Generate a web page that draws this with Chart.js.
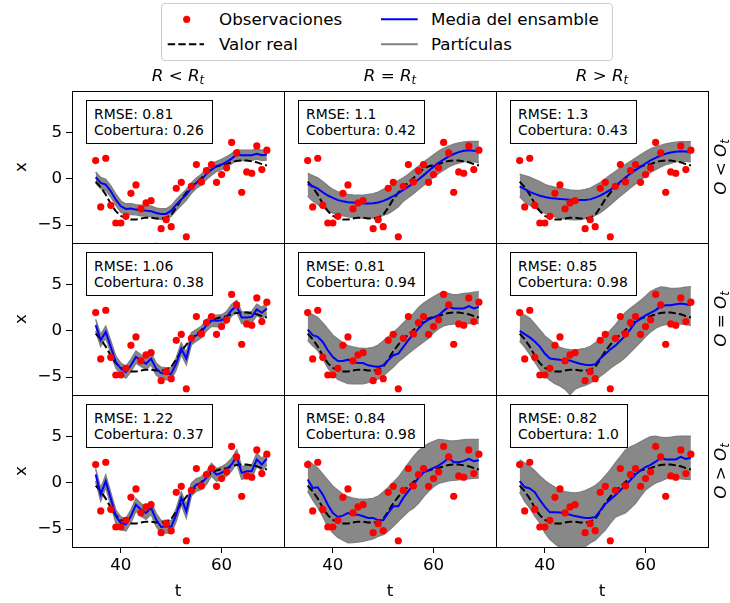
<!DOCTYPE html>
<html lang="es">
<head>
<meta charset="UTF-8">
<title>Filtro de partículas: sensibilidad a R y O</title>
<script src="https://cdn.jsdelivr.net/npm/chart.js"></script>
<style>
    body { margin: 0; background: #fff; font-family: 'DejaVu Sans', sans-serif; color: #000; }
    #fig { position: relative; width: 730px; height: 603px; overflow: hidden; }
    #fig canvas { position: absolute; }
    .lbl { position: absolute; font-size: 16.7px; line-height: 20px; white-space: nowrap; transform: translate(-50%, -50%); }
    .lbl.rot { transform: translate(-50%, -50%) rotate(-90deg); }
    .lbl sub { font-size: 11.7px; vertical-align: -3px; font-style: italic; }
    .stats { position: absolute; background: #fff; border: 1.5px solid #000; font-size: 13.9px; line-height: 16px;
             padding: 5px 8px 5px 7px; white-space: nowrap; }
    #legend { position: absolute; left: 161px; top: 3px; width: 450px; height: 56px; border: 1px solid #ccc;
              border-radius: 4px; background: #fff; }
    #legend svg { position: absolute; left: 0; top: 0; }
    #legend span { position: absolute; font-size: 16.7px; line-height: 20px; white-space: nowrap; }
</style>
</head>
<body>
<div id="fig">
    <div id="legend">
        <svg width="450" height="56">
            <circle cx="24.7" cy="15.3" r="3.6" fill="#ff0000"/>
            <line x1="5.7" y1="40.3" x2="42" y2="40.3" stroke="#000" stroke-width="2" stroke-dasharray="7.4 3.2"/>
            <line x1="219" y1="15.3" x2="255.7" y2="15.3" stroke="#0000ff" stroke-width="2"/>
            <line x1="219" y1="40.3" x2="255.7" y2="40.3" stroke="#808080" stroke-width="2"/>
        </svg>
        <span style="left:57px; top:5px">Observaciones</span>
        <span style="left:57px; top:30px">Valor real</span>
        <span style="left:269px; top:5px">Media del ensamble</span>
        <span style="left:269px; top:30px">Partículas</span>
    </div>
</div>
<script>
    // Tiempos y observaciones (iguales en los 9 paneles)
    const t = [35,36,37,38,39,40,41,42,43,44,45,46,47,48,49,50,51,52,53,54,55,56,57,58,59,60,61,62,63,64,65,66,67,68,69];
    const obs = [1.99,-3.04,2.24,-2.87,-4.78,-4.78,-4.06,-1.56,-0.65,-3.26,-2.61,-2.36,-7.3,-5.4,-4.42,-5.18,-1.02,-0.37,-6.27,-0.8,
                 1.55,-0.33,0.9,1.55,-0.37,0.47,1.2,3.95,2.82,-1.45,0.76,0.61,3.58,1.01,3.11];
    const valorReal = [-0.3,-0.9,-1.7,-2.7,-3.5,-4.0,-4.3,-4.4,-4.4,-4.3,-4.2,-4.2,-4.3,-4.3,-4.2,-3.9,-3.1,-2.2,-1.5,-0.9,
                       -0.4,0.1,0.6,1.1,1.35,1.5,1.6,1.8,1.95,2.0,2.0,1.9,1.8,1.6,1.45];

    // Fila O < Ot
    const mean00 = [0.18,-0.43,-0.62,-1.34,-2.25,-2.97,-3.26,-3.22,-3.33,-3.4,-3.44,-3.5,-3.7,-3.8,-3.8,-3.44,-2.8,-2.25,-1.7,-0.98,
                    -0.43,-0.07,0.54,1.0,1.38,1.56,1.85,2.2,2.64,2.57,2.57,2.57,2.72,2.57,2.64];
    const up00 = [0.75,0.15,-0.05,-0.75,-1.65,-2.4,-2.7,-2.7,-2.8,-2.85,-2.9,-2.95,-3.15,-3.25,-3.25,-2.9,-2.25,-1.7,-1.15,-0.45,
                  0.1,0.5,1.1,1.55,1.9,2.1,2.4,2.75,3.15,3.1,3.1,3.1,3.25,3.1,3.15];
    const lo00 = [-0.45,-1.05,-1.25,-1.95,-2.85,-3.6,-3.85,-3.85,-3.9,-4.0,-4.05,-4.1,-4.3,-4.4,-4.4,-4.05,-3.4,-2.85,-2.3,-1.55,
                  -1.0,-0.65,-0.05,0.4,0.8,1.0,1.3,1.65,2.05,2.0,2.0,2.0,2.15,2.0,2.05];
    const mean01 = [-0.55,-0.8,-1.05,-1.45,-1.8,-2.05,-2.3,-2.42,-2.52,-2.57,-2.62,-2.66,-2.67,-2.63,-2.55,-2.38,-2.15,-1.88,-1.55,-1.2,
                    -0.83,-0.47,-0.07,0.38,0.85,1.33,1.75,2.1,2.43,2.7,2.9,3.05,3.1,3.05,3.0];
    const up01 = [0.6,0.35,0.1,-0.3,-0.75,-1.15,-1.4,-1.6,-1.7,-1.75,-1.78,-1.78,-1.7,-1.6,-1.45,-1.15,-0.88,-0.6,-0.2,0.1,
                  0.5,0.95,1.35,1.8,2.2,2.6,3.0,3.3,3.55,3.75,3.9,4.0,4.05,4.05,4.05];
    const lo01 = [-1.85,-2.4,-2.75,-3.1,-3.4,-3.7,-3.88,-4.0,-4.1,-4.15,-4.2,-4.24,-4.25,-4.25,-4.15,-3.95,-3.75,-3.4,-3.0,-2.4,
                  -2.0,-1.6,-1.15,-0.7,-0.25,0.2,0.6,0.95,1.3,1.55,1.72,1.85,1.9,1.85,1.75];
    const mean02 = [-0.8,-1.1,-1.4,-1.62,-1.83,-1.97,-2.08,-2.13,-2.18,-2.22,-2.25,-2.28,-2.3,-2.28,-2.22,-2.03,-1.82,-1.52,-1.2,-0.75,
                    -0.3,0.15,0.58,0.95,1.3,1.67,2.0,2.28,2.52,2.72,2.86,2.95,3.0,2.97,2.9];
    const up02 = [0.52,0.35,0.18,-0.05,-0.3,-0.6,-0.78,-0.9,-1.0,-1.1,-1.2,-1.27,-1.25,-1.15,-1.0,-0.7,-0.4,0.0,0.4,0.8,
                  1.2,1.55,1.9,2.25,2.6,2.95,3.25,3.45,3.62,3.78,3.9,3.98,4.02,4.02,4.02];
    const lo02 = [-1.9,-2.5,-2.85,-3.15,-3.45,-3.7,-3.9,-4.1,-4.28,-4.35,-4.4,-4.42,-4.4,-4.3,-4.2,-3.95,-3.65,-3.25,-2.8,-2.3,
                  -1.85,-1.4,-0.95,-0.55,-0.1,0.3,0.7,1.0,1.3,1.56,1.7,1.85,1.92,1.9,1.85];

    // Fila O = Ot
    const mean10 = [0.62,-1.01,-0.11,-1.74,-3.37,-4.09,-4.46,-3.73,-2.83,-3.19,-3.55,-3.0,-4.09,-4.57,-4.64,-4.64,-3.55,-1.92,-3.0,-0.83,
                    -0.47,-0.11,0.62,1.16,1.09,1.16,1.52,2.25,2.72,1.45,1.45,1.52,2.32,1.96,2.43];
    const up10 = [1.25,-0.4,0.5,-1.1,-2.75,-3.5,-3.85,-3.1,-2.2,-2.6,-2.95,-2.4,-3.5,-3.95,-4.0,-4.0,-2.95,-1.3,-2.4,-0.2,
                  0.15,0.5,1.2,1.75,1.7,1.75,2.1,2.85,3.3,2.05,2.05,2.1,2.9,2.55,3.0];
    const lo10 = [-0.05,-1.65,-0.75,-2.4,-4.0,-4.75,-5.1,-4.4,-3.5,-3.85,-4.2,-3.65,-4.75,-5.2,-5.3,-5.3,-4.2,-2.55,-3.65,-1.5,
                  -1.1,-0.75,0.0,0.5,0.45,0.5,0.9,1.6,2.1,0.8,0.8,0.9,1.7,1.3,1.8];
    const mean11 = [0.14,-0.47,-0.65,-1.2,-2.1,-2.83,-3.26,-3.26,-3.12,-3.37,-3.48,-3.48,-3.73,-3.84,-3.9,-3.73,-3.19,-2.64,-2.46,-1.74,
                    -1.01,-0.36,0.25,0.87,1.23,1.45,1.7,2.17,2.6,2.43,2.43,2.43,2.68,2.43,2.6];
    const up11 = [2.0,1.75,1.45,0.85,0.2,-0.47,-0.9,-1.3,-1.6,-1.75,-1.85,-1.92,-1.88,-1.8,-1.55,-1.1,-0.65,-0.2,0.3,0.85,
                  1.4,1.85,2.5,3.0,3.35,3.7,4.0,4.24,4.05,3.9,3.95,4.05,4.1,4.2,4.24];
    const lo11 = [-1.0,-1.6,-2.1,-3.0,-4.0,-4.7,-5.25,-5.5,-5.7,-5.72,-5.72,-5.72,-5.6,-5.45,-5.2,-4.85,-4.4,-3.9,-3.35,-2.9,
                  -2.45,-2.0,-1.6,-1.2,-0.8,-0.2,0.25,0.55,0.68,0.75,0.8,0.8,0.8,0.8,0.8];
    const mean12 = [0.0,-0.35,-0.7,-1.15,-1.7,-2.45,-3.0,-3.07,-3.13,-3.16,-3.22,-3.4,-3.57,-3.66,-3.73,-3.62,-3.0,-2.5,-2.0,-1.6,
                    -1.05,-0.5,0.2,0.95,1.3,1.68,1.95,2.25,2.65,2.79,2.79,2.88,2.97,2.88,2.79];
    const up12 = [2.0,1.7,1.35,0.75,0.1,-0.55,-1.0,-1.45,-1.8,-1.95,-2.05,-2.1,-2.0,-1.9,-1.7,-1.3,-0.9,-0.45,0.05,0.65,
                  1.35,2.0,2.45,2.85,3.3,3.75,4.25,4.55,4.75,4.7,4.6,4.6,4.65,4.72,4.78];
    const lo12 = [-1.1,-1.75,-2.5,-3.35,-4.2,-4.85,-5.35,-5.7,-5.95,-6.3,-6.9,-6.3,-6.05,-5.9,-5.65,-5.3,-4.9,-4.5,-4.05,-3.65,
                  -3.3,-2.85,-2.3,-1.75,-1.2,-0.6,-0.1,0.3,0.55,0.68,0.75,0.8,0.75,0.68,0.62];

    // Fila O > Ot
    const mean20 = [0.9,-1.27,0.18,-1.7,-3.6,-4.35,-4.5,-3.6,-2.36,-2.9,-3.26,-2.7,-3.98,-4.78,-4.7,-4.78,-3.44,-1.63,-3.08,-0.72,
                    -0.18,0.0,0.54,1.45,0.9,1.09,1.45,2.0,2.9,1.09,1.27,1.27,2.54,2.0,2.64];
    const up20 = [1.55,-0.6,0.85,-1.05,-2.95,-3.7,-3.85,-2.95,-1.7,-2.25,-2.6,-2.05,-3.3,-4.1,-4.05,-4.1,-2.8,-1.0,-2.4,-0.05,
                  0.45,0.65,1.2,2.1,1.55,1.75,2.1,2.65,3.55,1.75,1.9,1.9,3.2,2.65,3.3];
    const lo20 = [0.2,-1.95,-0.5,-2.4,-4.3,-5.05,-5.2,-4.3,-3.05,-3.6,-3.95,-3.4,-4.7,-5.5,-5.4,-5.5,-4.15,-2.35,-3.8,-1.4,
                  -0.9,-0.7,-0.15,0.75,0.2,0.4,0.75,1.3,2.2,0.4,0.55,0.55,1.85,1.3,1.95];
    const mean21 = [0.36,-0.54,-0.47,-1.27,-2.36,-3.26,-3.7,-3.55,-3.26,-3.44,-3.44,-3.62,-3.8,-3.8,-4.06,-4.06,-3.26,-2.54,-2.54,-1.63,
                    -0.9,-0.18,0.54,1.16,1.38,1.63,1.88,2.25,2.72,2.25,2.25,2.36,2.6,2.36,2.46];
    const up21 = [2.45,2.0,1.6,0.95,0.3,-0.36,-0.8,-1.25,-1.5,-1.65,-1.75,-1.8,-1.75,-1.68,-1.45,-1.0,-0.5,0.05,0.6,1.35,
                  2.1,2.85,3.45,3.9,4.25,4.5,4.7,4.65,4.58,4.53,4.6,4.68,4.71,4.71,4.71];
    const lo21 = [-0.9,-1.85,-2.65,-3.6,-4.75,-5.4,-5.9,-6.2,-6.5,-6.45,-6.4,-6.34,-6.2,-6.05,-5.8,-5.6,-5.2,-4.7,-4.15,-3.6,
                  -3.1,-2.75,-2.2,-1.5,-0.9,-0.4,-0.05,0.1,0.22,0.3,0.35,0.4,0.45,0.5,0.54];
    const mean22 = [0.2,-0.45,-0.6,-1.0,-1.85,-2.6,-3.19,-3.19,-3.2,-3.3,-3.45,-3.6,-3.7,-3.8,-3.8,-3.7,-3.0,-2.3,-1.8,-1.35,
                    -0.8,-0.25,0.3,0.9,1.35,1.72,1.95,2.3,2.7,2.54,2.54,2.54,2.83,2.6,2.72];
    const up22 = [2.5,2.15,1.8,1.3,0.75,0.25,-0.15,-0.45,-0.8,-0.95,-1.05,-1.09,-1.0,-0.85,-0.6,-0.3,0.15,0.75,1.4,2.15,
                  2.85,3.55,3.9,4.15,4.45,4.75,5.0,5.05,4.95,4.9,4.95,5.02,5.07,5.07,5.07];
    const lo22 = [-1.0,-2.0,-2.7,-3.6,-4.3,-5.4,-6.1,-6.6,-7.0,-7.3,-7.5,-7.4,-7.2,-6.9,-6.5,-6.2,-5.65,-5.1,-4.35,-3.7,
                  -3.45,-3.26,-2.75,-2.2,-1.45,-0.75,-0.35,0.0,0.2,0.45,0.55,0.5,0.45,0.4,0.36];

    // Métricas de cada panel (por filas)
    const rmse = ['0.81', '1.1', '1.3', '1.06', '0.81', '0.85', '1.22', '0.84', '0.82'];
    const cobertura = ['0.26', '0.42', '0.43', '0.38', '0.94', '0.98', '0.37', '0.98', '1.0'];

    const xTicks = [40, 60];
    const yTicks = [-5, 0, 5];
    const colOps = ['<', '=', '>'];
    const rowOps = ['<', '=', '>'];

    const panels = [
        [mean00, up00, lo00], [mean01, up01, lo01], [mean02, up02, lo02],
        [mean10, up10, lo10], [mean11, up11, lo11], [mean12, up12, lo12],
        [mean20, up20, lo20], [mean21, up21, lo21], [mean22, up22, lo22]
    ];

    // geometría de la rejilla
    const LEFT = [72, 284, 496];
    const TOP = [91, 243, 395];
    const W = 212, H = 152;
    const YAX = 40, XAX = 45, PAD = 4;
    const FONT = { family: "'DejaVu Sans', sans-serif", size: 16.7 };

    const fig = document.getElementById('fig');
    const pts = arr => t.map((x, i) => ({ x: x, y: arr[i] }));

    // los ejes no deben reservar margen extra para las etiquetas extremas
    const noPadding = s => { s.paddingTop = 0; s.paddingBottom = 0; s.paddingLeft = 0; s.paddingRight = 0; };

    // marco negro completo alrededor de cada panel
    const frame = {
        id: 'frame',
        afterDraw(chart) {
            const a = chart.chartArea, c = chart.ctx;
            c.save();
            c.strokeStyle = '#000';
            c.lineWidth = 1;
            c.strokeRect(Math.round(a.left) + 0.5, Math.round(a.top) + 0.5,
                         Math.round(a.right - a.left), Math.round(a.bottom - a.top));
            c.restore();
        }
    };

    function addLabel(html, x, y, rotate) {
        const d = document.createElement('div');
        d.className = rotate ? 'lbl rot' : 'lbl';
        d.innerHTML = html;
        d.style.left = x + 'px';
        d.style.top = y + 'px';
        fig.appendChild(d);
    }

    const esc = op => op === '<' ? '&lt;' : op === '>' ? '&gt;' : op;

    for (let r = 0; r < 3; r++) {
        for (let c = 0; c < 3; c++) {
            const k = r * 3 + c;
            const [mean, up, lo] = panels[k];
            const isLeft = c === 0, isBottom = r === 2;

            const cv = document.createElement('canvas');
            cv.width = YAX + W + PAD;
            cv.height = PAD + H + XAX;
            cv.style.left = (LEFT[c] - YAX) + 'px';
            cv.style.top = (TOP[r] - PAD) + 'px';
            fig.appendChild(cv);

            new Chart(cv, {
                type: 'line',
                data: {
                    datasets: [
                        { data: pts(up), borderColor: '#808080', borderWidth: 1.5, backgroundColor: '#888888',
                          fill: '+1', pointRadius: 0, tension: 0, order: 4 },
                        { data: pts(lo), borderColor: '#808080', borderWidth: 1.5, fill: false,
                          pointRadius: 0, tension: 0, order: 3 },
                        { data: pts(valorReal), borderColor: '#000', borderWidth: 2, borderDash: [7.4, 3.2],
                          fill: false, pointRadius: 0, tension: 0, order: 2 },
                        { data: pts(mean), borderColor: '#0000ff', borderWidth: 2, fill: false,
                          pointRadius: 0, tension: 0, order: 1 },
                        { data: pts(obs), showLine: false, pointRadius: 3.6, pointBackgroundColor: '#ff0000',
                          pointBorderColor: '#ff0000', pointBorderWidth: 0, order: 0 }
                    ]
                },
                options: {
                    responsive: false,
                    animation: false,
                    events: [],
                    layout: { padding: { left: 0, top: PAD, right: PAD, bottom: 0 } },
                    plugins: { legend: { display: false }, tooltip: { enabled: false } },
                    scales: {
                        x: {
                            type: 'linear', min: 30.3, max: 72.4,
                            afterBuildTicks: s => { s.ticks = xTicks.map(v => ({ value: v })); },
                            afterFit: s => { s.height = XAX; noPadding(s); },
                            grid: { drawOnChartArea: false, drawTicks: isBottom, tickLength: 6, color: '#000' },
                            border: { display: false },
                            ticks: { display: isBottom, color: '#000', font: FONT, padding: 3, maxRotation: 0, autoSkip: false }
                        },
                        y: {
                            type: 'linear', min: -6.95, max: 9.53,
                            afterBuildTicks: s => { s.ticks = yTicks.map(v => ({ value: v })); },
                            afterFit: s => { s.width = YAX; noPadding(s); },
                            grid: { drawOnChartArea: false, drawTicks: isLeft, tickLength: 6, color: '#000' },
                            border: { display: false },
                            ticks: {
                                display: isLeft, color: '#000', font: FONT, padding: 4,
                                callback: v => v < 0 ? '\u2212' + Math.abs(v) : String(v)
                            }
                        }
                    }
                },
                plugins: [frame]
            });

            // recuadro con las métricas
            const box = document.createElement('div');
            box.className = 'stats';
            box.style.left = (LEFT[c] + 14) + 'px';
            box.style.top = (TOP[r] + 9) + 'px';
            box.innerHTML = 'RMSE: ' + rmse[k] + '<br>Cobertura: ' + cobertura[k];
            fig.appendChild(box);

            if (isLeft) addLabel('x', 20, TOP[r] + H / 2, true);
            if (isBottom) addLabel('t', LEFT[c] + W / 2, 590, false);
        }
    }

    for (let c = 0; c < 3; c++) {
        addLabel('<i>R</i> ' + esc(colOps[c]) + ' <i>R</i><sub>t</sub>', LEFT[c] + W / 2, 77, false);
    }
    for (let r = 0; r < 3; r++) {
        addLabel('<i>O</i> ' + esc(rowOps[r]) + ' <i>O</i><sub>t</sub>', 722, TOP[r] + H / 2, true);
    }
</script>
</body>
</html>
